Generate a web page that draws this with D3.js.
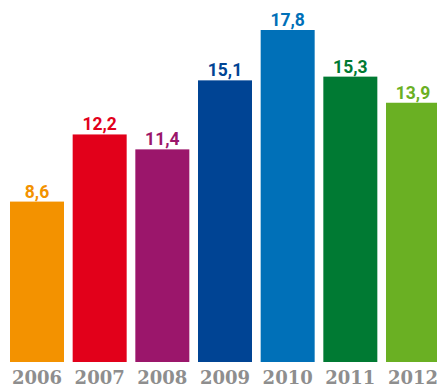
<!DOCTYPE html>
<html>
<head>
<meta charset="utf-8">
<script src="https://cdn.jsdelivr.net/npm/d3@7"></script>
<style>
  html, body { margin: 0; padding: 0; background: #fff; overflow: hidden; }
</style>
</head>
<body>
<svg id="chart"></svg>
<script>
// Data
var years = ['2006', '2007', '2008', '2009', '2010', '2011', '2012'];
var values = [8.6, 12.2, 11.4, 15.1, 17.8, 15.3, 13.9];
var colors = ['#f39200', '#e2001a', '#9b166b', '#004494', '#0070b8', '#007a33', '#6ab023'];

var config = {
  width: 437,
  height: 387,
  left: 10,
  right: 440,
  baseline: 362,
  top: 30,
  valueGap: 4
};

var svg = d3.select('#chart')
  .attr('width', config.width)
  .attr('height', config.height);

var x = d3.scaleBand()
  .domain(years)
  .range([config.left, config.right])
  .paddingInner(0.1383)
  .paddingOuter(0);

var y = d3.scaleLinear()
  .domain([0, 17.8])
  .range([config.baseline, config.top]);

var fmt = function(v) { return d3.format('.1f')(v).replace('.', ','); };

// Bars
svg.selectAll('rect.bar')
  .data(values)
  .enter().append('rect')
  .attr('class', 'bar')
  .attr('x', function(d, i) { return x(years[i]); })
  .attr('y', function(d) { return y(d); })
  .attr('width', x.bandwidth())
  .attr('height', function(d) { return y(0) - y(d); })
  .attr('fill', function(d, i) { return colors[i]; });

// Value labels
svg.selectAll('text.value')
  .data(values)
  .enter().append('text')
  .attr('class', 'value')
  .attr('x', function(d, i) { return x(years[i]) + x.bandwidth() / 2; })
  .attr('y', function(d) { return y(d) - config.valueGap; })
  .attr('text-anchor', 'middle')
  .attr('font-family', 'Roboto, sans-serif')
  .attr('font-weight', 'bold')
  .attr('font-size', '17.5px')
  .attr('fill', function(d, i) { return colors[i]; })
  .text(fmt);

// Year labels
svg.append('g')
  .attr('transform', 'translate(0,' + config.baseline + ')')
  .call(d3.axisBottom(x).tickSize(0).tickPadding(0))
  .call(function(g) { g.select('.domain').remove(); })
  .selectAll('text')
  .attr('dy', null)
  .attr('y', 22)
  .attr('font-family', '"DejaVu Serif", serif')
  .attr('font-weight', 'bold')
  .attr('font-size', '18px')
  .attr('fill', '#8e8e8e');
</script>
</body>
</html>
